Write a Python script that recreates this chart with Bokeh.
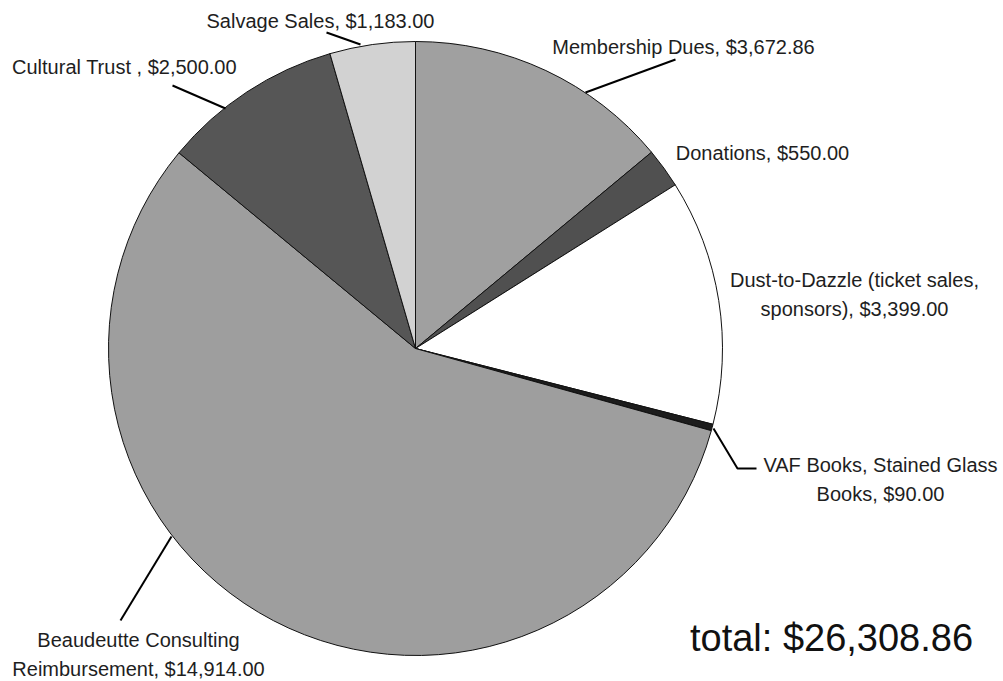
import math
from bokeh.plotting import figure
from bokeh.models import Range1d, ColumnDataSource
from bokeh.core.properties import value
from bokeh.embed import file_html
from bokeh.resources import INLINE

# ---- data ----
categories = [
    "Membership Dues",
    "Donations",
    "Dust-to-Dazzle (ticket sales, sponsors)",
    "VAF Books, Stained Glass Books",
    "Beaudeutte Consulting Reimbursement",
    "Cultural Trust ",
    "Salvage Sales",
]
amounts = [3672.86, 550.00, 3399.00, 90.00, 14914.00, 2500.00, 1183.00]
labels = [
    "Membership Dues, $3,672.86",
    "Donations, $550.00",
    "Dust-to-Dazzle (ticket sales,\nsponsors), $3,399.00",
    "VAF Books, Stained Glass\nBooks, $90.00",
    "Beaudeutte Consulting\nReimbursement, $14,914.00",
    "Cultural Trust , $2,500.00",
    "Salvage Sales, $1,183.00",
]
colors = ["#a0a0a0", "#505050", "#ffffff", "#1c1c1c", "#9e9e9e", "#565656", "#d2d2d2"]

# ---- layout (page pixel coordinates) ----
W, H = 1003, 681
def X(px): return px
def Y(py): return H - py

cx, cy, R = X(415), Y(348), 307

label_pos = [(683, 46), (762, 152), (854, 294), (880, 479), (138, 654), (124, 66), (320, 20)]
leaders = [
    [(675, 59), (585, 92)],
    None,
    None,
    [(713, 428), (737, 468), (756, 468)],
    [(171, 536), (120, 620)],
    [(172, 85), (225, 108)],
    [(326, 32), (360, 44)],
]

total = sum(amounts)
starts, ends = [], []
cum = 0.0
for a in amounts:
    starts.append(math.pi / 2 - 2 * math.pi * cum / total)
    cum += a
    ends.append(math.pi / 2 - 2 * math.pi * cum / total)

p = figure(width=W, height=H, output_backend="svg", toolbar_location=None,
           x_range=Range1d(0, W), y_range=Range1d(0, H), min_border=0)
p.axis.visible = False
p.grid.visible = False
p.outline_line_color = None
p.background_fill_color = "white"
p.border_fill_color = "white"

src = ColumnDataSource(dict(start=starts, end=ends, color=colors,
                            x=[cx] * len(amounts), y=[cy] * len(amounts)))
p.wedge(x="x", y="y", radius=R, start_angle="start", end_angle="end",
        direction="clock", fill_color="color", line_color="#111111",
        line_width=1, source=src)

lx, ly = [], []
for seg in leaders:
    if seg:
        lx.append([X(a) for a, b in seg])
        ly.append([Y(b) for a, b in seg])
p.multi_line(xs=lx, ys=ly, line_color="black", line_width=2)

p.text(x=[X(a) for a, b in label_pos], y=[Y(b) for a, b in label_pos], text=labels,
       text_font=value("Liberation Sans"), text_font_size="20px",
       text_color="#1e1e1e", text_align="center", text_baseline="middle",
       text_line_height=1.3)

total_label = "total: $" + f"{total:,.2f}"
p.text(x=[X(831)], y=[Y(637)], text=[total_label],
       text_font=value("Liberation Sans"), text_font_size="38px",
       text_color="#111111", text_align="center", text_baseline="middle")

open("out.html", "w").write(file_html(p, INLINE))
